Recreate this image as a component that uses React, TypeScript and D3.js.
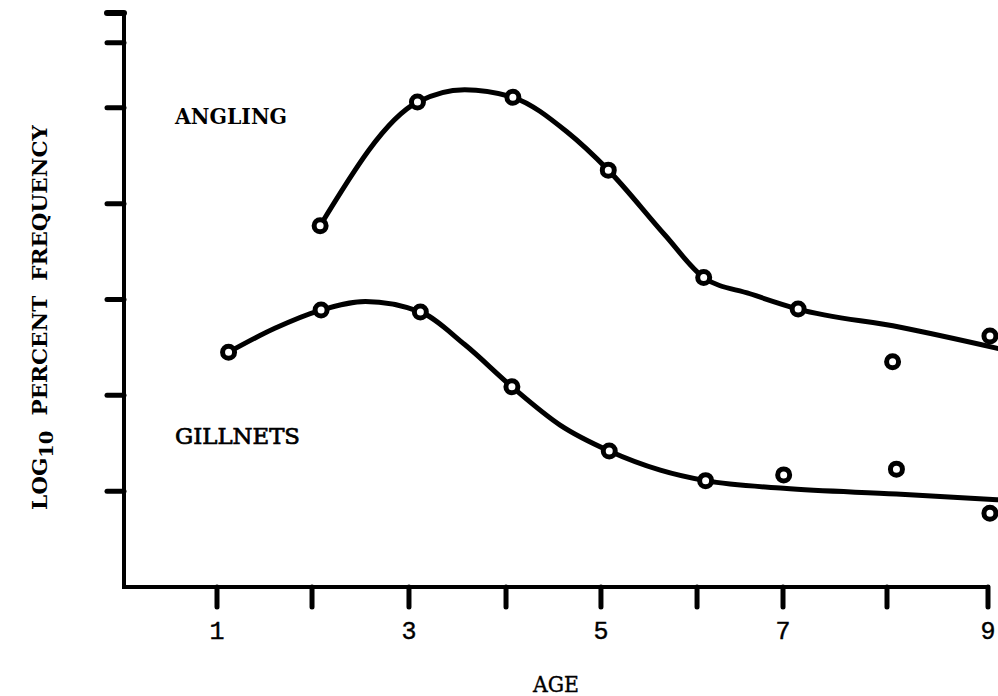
import React from "react";
import * as d3 from "d3";

// Observed points (age, log10 percent frequency)
const anglingAges = [2.07, 3.08, 4.07, 5.06, 6.05, 7.03, 8.01, 9.02];
const anglingValues = [3.77, 5.06, 5.11, 4.35, 3.23, 2.9, 2.35, 2.62];
const gillnetAges = [1.12, 2.08, 3.11, 4.06, 5.07, 6.07, 6.88, 8.05, 9.02];
const gillnetValues = [2.45, 2.89, 2.87, 2.09, 1.42, 1.11, 1.17, 1.23, 0.77];

// Hand-fitted smooth curves
const anglingCurveAges = [2.07, 3.08, 3.57, 4.07, 4.63, 5.06, 5.65, 6.05, 6.53, 7.03, 8.09, 9.1];
const anglingCurveValues = [3.77, 5.06, 5.19, 5.11, 4.75, 4.35, 3.67, 3.23, 3.06, 2.9, 2.71, 2.49];
const gillnetCurveAges = [1.12, 1.6, 2.08, 2.54, 3.11, 3.57, 4.06, 4.56, 5.07, 5.6, 6.07, 6.88, 8.05, 9.1];
const gillnetCurveValues = [2.45, 2.7, 2.89, 2.98, 2.87, 2.53, 2.09, 1.69, 1.42, 1.22, 1.11, 1.03, 0.97, 0.91];

// Axis ticks (hand-drawn positions)
const xTickPositions = [1, 1.986, 2.992, 3.999, 4.984, 5.981, 6.873, 7.952, 9.0];
const xTickLabels = ["1", "", "3", "", "5", "", "7", "", "9"];
const yTickValues = [1, 2, 3, 4, 5, 5.68, 5.99];

const W = 998;
const H = 696;

export default function App() {
  const x = d3.scaleLinear().domain([1, 9]).range([217, 988]);
  const y = d3.scaleLinear().domain([0, 6]).range([587, 12]);
  const axisX = 124;
  const axisY = 587;

  const line = d3
    .line<[number, number]>()
    .x((d) => x(d[0]))
    .y((d) => y(d[1]))
    .curve(d3.curveMonotoneX);

  const aCurve = anglingCurveAges.map((a, i) => [a, anglingCurveValues[i]] as [number, number]);
  const gCurve = gillnetCurveAges.map((a, i) => [a, gillnetCurveValues[i]] as [number, number]);

  const serif = "'DejaVu Serif', 'Liberation Serif', serif";
  const mono = "'Liberation Mono', 'DejaVu Sans Mono', monospace";

  return (
    <svg
      width={W}
      height={H}
      viewBox={`0 0 ${W} ${H}`}
      style={{ position: "absolute", left: 0, top: 0, background: "#fff" }}
    >
      <rect x={0} y={0} width={W} height={H} fill="#fff" />
      {/* axes */}
      <line x1={axisX} y1={11} x2={axisX} y2={axisY + 2} stroke="#000" strokeWidth={4} />
      <line x1={axisX - 2} y1={axisY} x2={990} y2={axisY} stroke="#000" strokeWidth={4} />
      {yTickValues.map((v, i) => (
        <line
          key={"yt" + i}
          x1={107}
          x2={axisX}
          y1={y(v)}
          y2={y(v)}
          stroke="#000"
          strokeWidth={i === yTickValues.length - 1 ? 6 : 5}
          strokeLinecap="round"
        />
      ))}
      {xTickPositions.map((v, i) => (
        <g key={"xt" + i}>
          <line
            x1={x(v)}
            x2={x(v)}
            y1={axisY}
            y2={607}
            stroke="#000"
            strokeWidth={5}
            strokeLinecap="round"
          />
          {xTickLabels[i] && (
            <text
              x={x(v)}
              y={639}
              textAnchor="middle"
              fontFamily={mono}
              fontSize={25}
              fill="#000"
              stroke="#000"
              strokeWidth={0.4}
            >
              {xTickLabels[i]}
            </text>
          )}
        </g>
      ))}

      {/* curves */}
      <path d={line(aCurve) || ""} fill="none" stroke="#000" strokeWidth={5} strokeLinecap="round" strokeLinejoin="round" />
      <path d={line(gCurve) || ""} fill="none" stroke="#000" strokeWidth={5} strokeLinecap="round" strokeLinejoin="round" />

      {/* points */}
      {anglingAges.map((a, i) => (
        <circle key={"a" + i} cx={x(a)} cy={y(anglingValues[i])} r={6} fill="#fff" stroke="#000" strokeWidth={5} />
      ))}
      {gillnetAges.map((a, i) => (
        <circle key={"g" + i} cx={x(a)} cy={y(gillnetValues[i])} r={6} fill="#fff" stroke="#000" strokeWidth={5} />
      ))}

      {/* labels */}
      <text x={175} y={124} fontFamily={serif} fontWeight="bold" fontSize={22} textLength={112} lengthAdjust="spacingAndGlyphs" fill="#000">
        ANGLING
      </text>
      <text x={175} y={444} fontFamily={serif} fontSize={22} textLength={125} lengthAdjust="spacingAndGlyphs" fill="#000" stroke="#000" strokeWidth={0.7}>
        GILLNETS
      </text>
      <text x={556} y={692} textAnchor="middle" fontFamily={serif} fontSize={22} textLength={46} lengthAdjust="spacingAndGlyphs" fill="#000" stroke="#000" strokeWidth={0.4}>
        AGE
      </text>
      <text
        transform="translate(47,510) rotate(-90)"
        fontFamily={serif}
        fontWeight="bold"
        fontSize={21}
        textLength={385}
        lengthAdjust="spacingAndGlyphs"
        fill="#000"
      >
        <tspan>LOG</tspan>
        <tspan fontSize={19} dy={6}>10</tspan>
        <tspan dy={-6}>{"\u00a0\u00a0PERCENT\u00a0\u00a0FREQUENCY"}</tspan>
      </text>
    </svg>
  );
}
